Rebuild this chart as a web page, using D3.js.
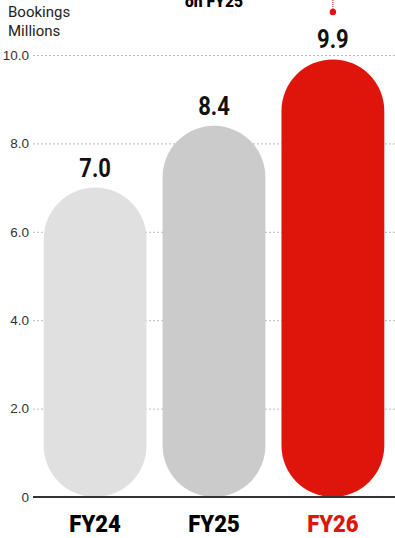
<!DOCTYPE html>
<html>
<head>
<meta charset="utf-8">
<script src="https://cdn.jsdelivr.net/npm/d3@7"></script>
<style>
  body { margin: 0; background: #fff; }
  svg { display: block; font-family: Roboto, "Noto Sans", sans-serif; }
</style>
</head>
<body>
<div id="chart"></div>
<script>
// data
var years = ["FY24", "FY25", "FY26"];
var bookings = [7.0, 8.4, 9.9];
var barColors = ["#e0e0e0", "#cbcbcb", "#df150c"];
var yTicks = [0, 2, 4, 6, 8, 10];

window.onload = function () {
  var W = 395, H = 538;
  var margin = {top: 55, right: 0, bottom: 41, left: 33};
  var width = W - margin.left - margin.right;
  var height = H - margin.top - margin.bottom;

  var svg = d3.select("#chart").append("svg")
    .attr("width", W).attr("height", H);

  var g = svg.append("g")
    .attr("transform", "translate(" + margin.left + "," + margin.top + ")");

  var x = d3.scaleBand().domain(years).range([0, width])
    .paddingInner(0.135).paddingOuter(0.09);
  var y = d3.scaleLinear().domain([0, 10]).range([height, 0]);

  // gridlines + tick labels
  var axis = g.append("g")
    .call(d3.axisLeft(y).tickValues(yTicks).tickSize(-width)
      .tickFormat(function (d) { return d === 0 ? "0" : d3.format(".1f")(d); }));
  axis.select(".domain").remove();
  axis.selectAll(".tick line")
    .attr("stroke", "#bbb").attr("stroke-dasharray", "2,2");
  axis.selectAll(".tick text")
    .attr("x", -4).attr("fill", "#333").style("font-size", "13.5px");

  // bars (pill shaped)
  g.selectAll("rect.bar")
    .data(years)
    .enter().append("rect")
      .attr("class", "bar")
      .attr("x", function (d) { return x(d); })
      .attr("y", function (d, i) { return y(bookings[i]); })
      .attr("width", x.bandwidth())
      .attr("height", function (d, i) { return y(0) - y(bookings[i]); })
      .attr("rx", x.bandwidth() / 2)
      .attr("fill", function (d, i) { return barColors[i]; });

  // baseline
  g.append("line")
    .attr("x1", 0).attr("x2", width)
    .attr("y1", y(0)).attr("y2", y(0))
    .attr("stroke", "#333").attr("stroke-width", 2);
  axis.selectAll(".tick").filter(function (d) { return d === 0; })
    .select("line").remove();

  // value labels (narrowed to look condensed)
  g.selectAll("text.val")
    .data(years)
    .enter().append("text")
      .attr("class", "val")
      .attr("transform", function (d, i) {
        return "translate(" + (x(d) + x.bandwidth() / 2) + "," + (y(bookings[i]) - 11) + ") scale(0.88,1)";
      })
      .attr("text-anchor", "middle")
      .style("font-size", "25px").style("font-weight", "700")
      .attr("fill", "#111")
      .text(function (d, i) { return bookings[i].toFixed(1); });

  // category labels
  g.selectAll("text.cat")
    .data(years)
    .enter().append("text")
      .attr("class", "cat")
      .attr("transform", function (d) {
        return "translate(" + (x(d) + x.bandwidth() / 2) + "," + (height + 35) + ") scale(0.92,1)";
      })
      .attr("text-anchor", "middle")
      .style("font-size", "24px").style("font-weight", "900")
      .attr("fill", function (d, i) { return i === 2 ? "#df150c" : "#000"; })
      .text(function (d) { return d; });

  // unit title
  svg.append("text").attr("x", 8).attr("y", 17)
    .style("font-size", "15px").attr("fill", "#222").text("Bookings");
  svg.append("text").attr("x", 8).attr("y", 36)
    .style("font-size", "15px").attr("fill", "#222").text("Millions");

  // annotation cut off at top
  svg.append("text")
    .attr("transform", "translate(" + (x("FY25") + margin.left + x.bandwidth() / 2) + ",7) scale(0.92,1)")
    .attr("text-anchor", "middle")
    .style("font-size", "17px").style("font-weight", "900")
    .attr("fill", "#000").text("on FY25");

  var cx = x("FY26") + margin.left + x.bandwidth() / 2;
  svg.append("line").attr("x1", cx).attr("x2", cx).attr("y1", 0).attr("y2", 11)
    .attr("stroke", "#df150c").attr("stroke-width", 1).attr("stroke-dasharray", "1,1");
  svg.append("circle").attr("cx", cx).attr("cy", 12).attr("r", 3.2)
    .attr("fill", "#df150c");
};
</script>
</body>
</html>
